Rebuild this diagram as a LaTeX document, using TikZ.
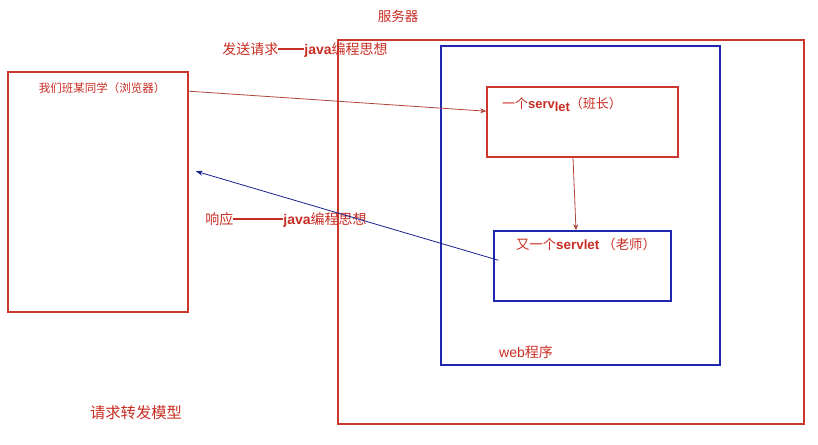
\documentclass[tikz,border=0pt]{standalone}
\usepackage{fontspec}
\setmainfont{Noto Sans CJK SC}
\newfontfamily\lat{Liberation Sans}
\usetikzlibrary{arrows.meta,calc}
\definecolor{bred}{RGB}{205,55,45}
\definecolor{tred}{RGB}{200,45,35}
\definecolor{bblue}{RGB}{30,40,175}
\definecolor{lred}{RGB}{175,70,60}
\newcommand{\dashrule}[1]{\rule[0.33em]{#1}{1.6pt}}
\tikzset{
  redbox/.style={draw=bred,line width=1.6pt,rectangle,inner sep=0pt},
  bluebox/.style={draw=bblue,line width=1.6pt,rectangle,inner sep=0pt},
  lbl/.style={text=tred,inner sep=0pt,font=\fontsize{13.5}{15}\selectfont},
  reqarrow/.style={draw=lred,line width=0.8pt,-{Stealth[length=6pt,width=5pt]}},
  resarrow/.style={draw=bblue!80!black,line width=0.8pt,-{Stealth[length=7pt,width=5pt]}}
}
\begin{document}
\begin{tikzpicture}[x=1pt,y=-1pt]
\useasboundingbox (0,0) rectangle (818,444);
% boxes
\node[redbox,minimum width=180pt,minimum height=240pt] (browser) at (98,192) {};
\node[redbox,minimum width=466pt,minimum height=384pt] (server) at (571,232) {};
\node[bluebox,minimum width=279pt,minimum height=319pt] (web) at (580.5,205.5) {};
\node[redbox,minimum width=191pt,minimum height=70pt] (s1) at (582.5,122) {};
\node[bluebox,minimum width=177pt,minimum height=70pt] (s2) at (582.5,266) {};
% labels
\node[lbl,font=\fontsize{11.5}{13}\selectfont] (tb) at (102,88) {我们班某同学（浏览器）};
\node[lbl] (tserver) at (398,16) {服务器};
\node[lbl,font=\fontsize{14}{16}\selectfont] (treq) at (305,50) {发送请求\dashrule{26pt}{\lat\bfseries java}编程思想};
\node[lbl,font=\fontsize{14}{16}\selectfont] (tres) at (286,220) {响应\dashrule{50pt}{\lat\bfseries java}编程思想};
\node[lbl,font=\fontsize{13}{15}\selectfont] (ts1) at (562,104) {一个{\lat\bfseries serv}\raisebox{-3pt}{\lat\bfseries let}（班长）};
\node[lbl,font=\fontsize{13.4}{15}\selectfont] (ts2) at (586,244) {又一个{\lat\bfseries servlet} （老师）};
\node[lbl,font=\fontsize{14}{16}\selectfont] (tweb) at (526,352) {{\lat web}程序};
\node[lbl,font=\fontsize{15.3}{17}\selectfont] (tmodel) at (136,413) {请求转发模型};
% connectors
\coordinate (reqS) at ([yshift=-20pt]browser.north east);
\coordinate (reqE) at ([yshift=-25pt]s1.north west);
\draw[reqarrow] (reqS) -- (reqE);
\coordinate (dS) at ([xshift=-9.5pt]s1.south);
\coordinate (dE) at ([xshift=-6.5pt]s2.north);
\draw[reqarrow] (dS) -- (dE);
\coordinate (rS) at ([xshift=5pt,yshift=-30pt]s2.north west);
\coordinate (rE) at ([xshift=7pt,yshift=-100pt]browser.north east);
\draw[resarrow] (rS) -- (rE);
\end{tikzpicture}
\end{document}
